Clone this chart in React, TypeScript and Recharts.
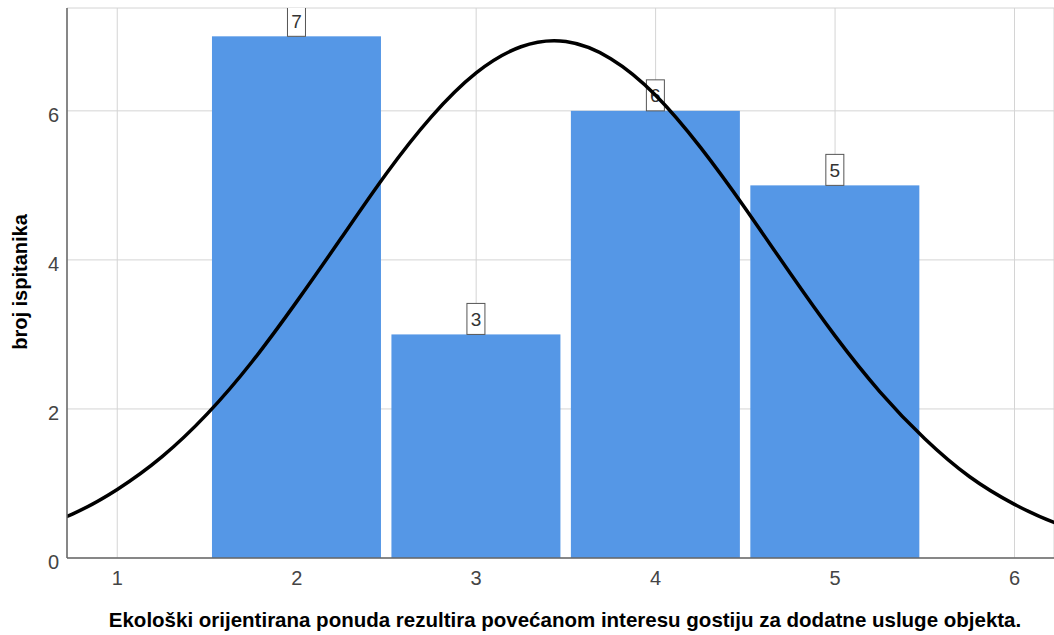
import { ComposedChart, Bar, Line, XAxis, YAxis, CartesianGrid, Label } from "recharts";

// histogram bins (centre of bin) and counts
const binCenters = [2, 3, 4, 5];
const binCounts = [7, 3, 6, 5];

// normal curve
const curveX = [
  0.5, 0.75, 1, 1.25, 1.5, 1.75, 2, 2.25, 2.5, 2.75, 3, 3.25, 3.5, 3.75, 4, 4.25, 4.5, 4.75, 5, 5.25, 5.5, 5.75,
  6, 6.25, 6.5,
];
const curveY = [
  0.37, 0.59, 0.92, 1.36, 1.93, 2.63, 3.44, 4.3, 5.16, 5.92, 6.51, 6.86, 6.93, 6.7, 6.21, 5.51, 4.69, 3.82, 2.98,
  2.23, 1.6, 1.09, 0.72, 0.45, 0.27,
];

const xTicks = [1, 2, 3, 4, 5, 6];
const yTicks = [0, 2, 4, 6];

const xTitle = "Ekološki orijentirana ponuda rezultira povećanom interesu gostiju za dodatne usluge objekta.";
const yTitle = "broj ispitanika";

const histData = binCenters.map((x, i) => ({ x, count: binCounts[i] }));
const curveData = curveX.map((x, i) => ({ x, y: curveY[i] }));

const FONT = "Arial, 'Liberation Sans', sans-serif";

// bar + boxed count on top, drawn in the bar layer so the curve stays above it
// eslint-disable-next-line @typescript-eslint/no-explicit-any
const BarWithBox = (props: any) => {
  const { x, y, width, height, fill, payload } = props;
  const cx = x + width / 2;
  return (
    <g>
      <rect x={x} y={y} width={width} height={height} fill={fill} />
      <rect x={cx - 9} y={y - 31} width={18} height={31} fill="#fff" stroke="#555" strokeWidth={1} />
      <text x={cx} y={y - 15} textAnchor="middle" dominantBaseline="central" fontSize={19} fill="#333" fontFamily={FONT}>
        {payload.count}
      </text>
    </g>
  );
};

export default function App() {
  return (
    <div style={{ position: "absolute", left: 0, top: 0, width: 1054, height: 635, background: "#fff" }}>
      <ComposedChart
        width={1054}
        height={635}
        data={histData}
        margin={{ top: 8, right: 0, bottom: 0, left: 0 }}
        barCategoryGap={5}
      >
        <CartesianGrid stroke="#d4d4d4" strokeWidth={1} />
        <XAxis xAxisId="hist" dataKey="x" type="number" domain={[0.72, 6.22]} allowDataOverflow hide />
        <XAxis
          dataKey="x"
          type="number"
          domain={[0.72, 6.22]}
          ticks={xTicks}
          allowDataOverflow
          height={77}
          tickLine={false}
          tickMargin={7}
          axisLine={{ stroke: "#666", strokeWidth: 1.5 }}
          tick={{ fill: "#444", fontSize: 20, fontFamily: FONT }}
        >
          <Label
            content={() => (
              <text x={565} y={627} textAnchor="middle" fontSize={20.5} fontWeight="bold" fill="#000" fontFamily={FONT}>
                {xTitle}
              </text>
            )}
          />
        </XAxis>
        <YAxis
          type="number"
          domain={[0, 7.38]}
          ticks={yTicks}
          allowDataOverflow
          width={67}
          tickLine={false}
          axisLine={{ stroke: "#666", strokeWidth: 1.5 }}
          tick={{ fill: "#444", fontSize: 20, fontFamily: FONT, dy: 4 }}
        >
          <Label
            content={() => (
              <text
                x={27}
                y={282}
                transform="rotate(-90 27 282)"
                textAnchor="middle"
                fontSize={20}
                fontWeight="bold"
                fill="#000"
                fontFamily={FONT}
              >
                {yTitle}
              </text>
            )}
          />
        </YAxis>
        <Bar xAxisId="hist" dataKey="count" fill="#5597e6" shape={BarWithBox} isAnimationActive={false} />
        <Line
          data={curveData}
          dataKey="y"
          type="natural"
          stroke="#000"
          strokeWidth={3.5}
          dot={false}
          activeDot={false}
          isAnimationActive={false}
        />
      </ComposedChart>
    </div>
  );
}
